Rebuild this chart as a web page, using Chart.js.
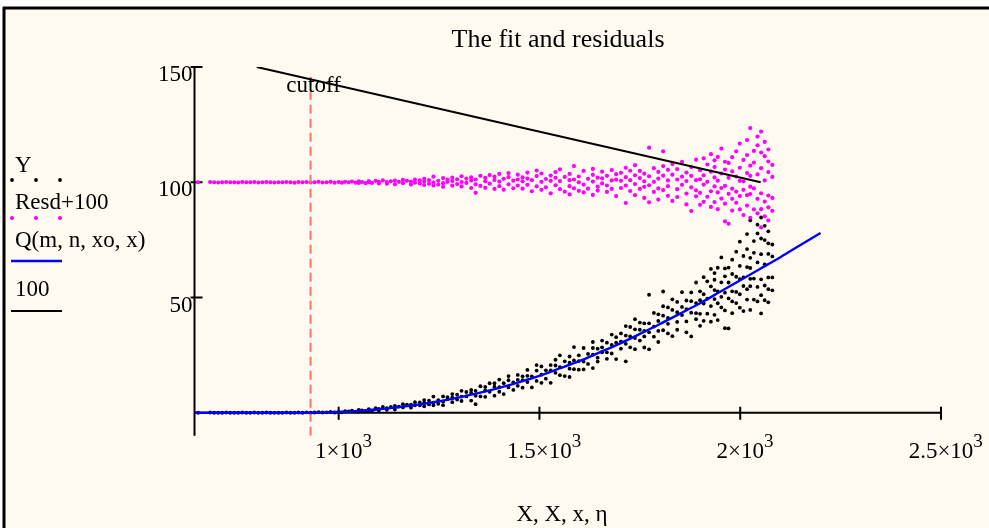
<!DOCTYPE html>
<html>
<head>
<meta charset="utf-8">
<title>The fit and residuals</title>
<script src="https://cdn.jsdelivr.net/npm/chart.js@4.4.0/dist/chart.umd.min.js"></script>
<style>
  html, body { margin: 0; padding: 0; background: #ffffff; }
  #wrap { position: relative; width: 989px; height: 528px; }
</style>
</head>
<body>
<div id="wrap"><canvas id="plot"></canvas></div>
<script>
/* ============================================================
   The fit and residuals — Mathcad style plot redrawn in Chart.js
   ============================================================ */

// ---- Measured data X (one line per column of points) --------
var dataX = [
  650, 680, 690, 700, 710, 720, 730, 740, 750, 760, 770,
  780, 790, 800, 810, 820, 830, 840, 850, 860, 870, 880,
  890, 900, 910, 920, 930, 940, 950, 960, 970, 980, 990,
  1000, 1008, 1016, 1025, 1033, 1042, 1050, 1050, 1058, 1067,
  1075, 1075, 1083, 1092, 1100, 1100, 1110, 1120, 1120, 1130,
  1140, 1140, 1150, 1160, 1160, 1170, 1180, 1180, 1190, 1190,
  1202, 1202,
  1213, 1213, 1213,
  1225, 1225,
  1236, 1236, 1236,
  1248, 1248,
  1260, 1260, 1260,
  1271, 1271,
  1283, 1283, 1283,
  1295, 1295,
  1306, 1306, 1306,
  1318, 1318,
  1330, 1330, 1330,
  1341, 1341, 1341,
  1353, 1353,
  1365, 1365, 1365,
  1376, 1376,
  1388, 1388, 1388,
  1400, 1400, 1400,
  1411, 1411,
  1423, 1423, 1423,
  1435, 1435,
  1446, 1446, 1446,
  1458, 1458, 1458,
  1470, 1470, 1470,
  1481, 1481,
  1493, 1493, 1493,
  1505, 1505, 1505,
  1516, 1516,
  1528, 1528, 1528,
  1540, 1540, 1540,
  1551, 1551, 1551,
  1563, 1563,
  1575, 1575, 1575, 1575,
  1586, 1586, 1586,
  1598, 1598, 1598,
  1610, 1610, 1610,
  1621, 1621,
  1633, 1633, 1633, 1633,
  1645, 1645, 1645,
  1656, 1656, 1656,
  1668, 1668, 1668,
  1680, 1680, 1680,
  1691, 1691, 1691,
  1703, 1703, 1703,
  1715, 1715, 1715, 1715,
  1726, 1726, 1726,
  1738, 1738, 1738, 1738,
  1750, 1750, 1750,
  1761, 1761, 1761, 1761,
  1773, 1773, 1773, 1773,
  1785, 1785, 1785,
  1796, 1796, 1796, 1796,
  1808, 1808, 1808, 1808,
  1820, 1820, 1820, 1820,
  1831, 1831, 1831,
  1843, 1843, 1843, 1843,
  1855, 1855, 1855,
  1866, 1866, 1866, 1866,
  1878, 1878, 1878, 1878,
  1890, 1890, 1890, 1890,
  1900, 1900, 1900, 1900,
  1909, 1909, 1909, 1909,
  1918, 1918, 1918,
  1927, 1927, 1927, 1927,
  1936, 1936, 1936, 1936, 1936,
  1944, 1944, 1944, 1944,
  1953, 1953, 1953, 1953,
  1962, 1962, 1962, 1962, 1962,
  1971, 1971, 1971, 1971,
  1980, 1980, 1980, 1980, 1980,
  1990, 1990, 1990, 1990,
  1999, 1999, 1999, 1999, 1999,
  2008, 2008, 2008, 2008,
  2017, 2017, 2017, 2017, 2017,
  2025, 2025, 2025, 2025, 2025, 2025,
  2034, 2034, 2034, 2034,
  2043, 2043, 2043, 2043, 2043,
  2052, 2052, 2052, 2052, 2052, 2052,
  2061, 2061, 2061, 2061, 2061,
  2070, 2070, 2070, 2070, 2070, 2070,
  2080, 2080, 2080, 2080
];

// ---- Measured Y (black dots) ---------------------------------
var dataY = [
  0, 0.1, 0, 0, 0, 0.1, 0, 0, 0, 0.1, 0,
  0, 0.1, 0, 0, 0.1, 0, 0, 0, 0, 0.1, 0,
  0, 0.1, 0, 0.2, 0, 0.1, 0.3, 0.1, 0.2, 0.4, 0.1,
  0.4, 0.2, 0.7, 0.6, 0.9, 0.5, 1.2, 0.5, 1.0, 0.6,
  1.6, 1.1, 0.9, 2.0, 1.0, 1.7, 2.5, 1.3, 2.0, 2.5,
  1.4, 3.0, 2.7, 2.3, 3.7, 3.5, 2.2, 3.5, 4.6, 3.2,
  4.5, 3.2,
  2.8, 4.3, 5.5,
  5.2, 3.6,
  7.0, 4.4, 3.2,
  5.5, 3.9,
  7.1, 4.9, 3.3,
  5.9, 6.8,
  4.6, 8.1, 6.6,
  5.7, 7.8,
  9.5, 5.1, 7.0,
  7.1, 9.0,
  5.3, 8.6, 9.9,
  3.7, 9.5, 7.4,
  11.5, 7.1,
  9.7, 6.9, 11.2,
  12.8, 9.1,
  7.4, 11.3, 12.8,
  11.1, 9.1, 14.4,
  8.1, 12.8,
  14.1, 11.0, 15.9,
  9.9, 13.2,
  16.4, 11.7, 14.3,
  15.8, 10.9, 14.1,
  13.3, 18.6, 16.0,
  11.0, 15.8,
  18.3, 13.8, 20.7,
  13.0, 16.5, 20.1,
  18.4, 14.8,
  13.0, 20.7, 18.4,
  23.0, 17.3, 20.5,
  16.3, 19.8, 24.9,
  22.3, 15.9,
  19.1, 24.4, 21.7, 15.5,
  28.5, 18.9, 22.7,
  18.7, 24.9, 22.4,
  28.1, 22.2, 18.8,
  25.5, 21.2,
  19.4, 28.1, 25.2, 30.7,
  23.9, 27.8, 22.2,
  31.3, 26.2, 28.4,
  23.4, 30.4, 26.2,
  29.4, 33.9, 25.7,
  23.3, 32.8, 30.4,
  34.4, 27.8, 30.9,
  22.3, 33.5, 37.6, 29.9,
  37.2, 28.4, 33.1,
  27.6, 36.2, 32.4, 40.6,
  36.0, 31.3, 39.1,
  28.3, 35.5, 38.8, 33.1,
  51.2, 27.5, 38.8, 34.9,
  43.3, 33.0, 37.4,
  35.5, 42.7, 30.7, 39.8,
  52.6, 35.8, 42.1, 46.2,
  34.4, 41.1, 45.7, 38.6,
  44.6, 33.2, 49.2,
  39.4, 43.6, 36.0, 48.1,
  52.3, 42.4, 45.9,
  39.6, 48.7, 34.9, 45.0,
  52.2, 33.1, 43.4, 48.4,
  40.6, 56.5, 47.6, 43.2,
  52.7, 42.9, 48.8, 37.7,
  51.4, 47.4, 39.9, 58.8,
  43.0, 57.0, 49.5,
  62.4, 46.3, 54.8, 39.5,
  57.7, 42.5, 49.3, 53.2, 60.6,
  62.9, 40.2, 52.6, 47.5,
  45.7, 56.6, 67.4, 50.3,
  36.7, 52.1, 59.2, 44.4, 62.6,
  36.6, 63.0, 49.6, 56.5,
  60.2, 43.2, 66.4, 52.7, 48.3,
  69.9, 59.0, 47.6, 52.4,
  45.6, 51.4, 63.7, 74.2, 58.0,
  58.7, 44.1, 68.0, 55.0,
  77.5, 53.6, 63.2, 49.1, 71.0,
  83.5, 62.8, 54.9, 44.6, 67.2, 58.1,
  69.4, 49.1, 74.5, 58.2,
  77.8, 54.6, 65.2, 48.3, 81.6,
  84.7, 51.0, 68.8, 57.9, 75.6, 43.1,
  74.9, 48.8, 64.4, 81.1, 55.2,
  68.9, 58.7, 47.9, 78.7, 73.5, 53.6,
  58.7, 67.8, 53.1, 73.0
];

// ---- Residuals Resd (plotted as Resd + 100) ------------------
var resd = [
  0, 0.1, 0, -0.1, 0, 0.1, 0, 0, -0.1, 0.1, 0,
  0, 0.1, -0.1, 0, 0.1, 0, -0.1, 0, 0, 0.1, 0,
  -0.2, 0.1, 0, 0.1, -0.1, 0, 0.2, -0.1, 0, 0.2, -0.2,
  0.1, -0.2, 0.2, 0, 0.3, -0.2, 0.4, -0.3, 0.1, -0.4,
  0.5, 0, -0.3, 0.6, -0.5, 0.2, 0.8, -0.6, 0.1, 0.4,
  -0.9, 0.7, 0.2, -0.4, 1.0, 0.6, -1.0, 0.3, 1.2, -0.2,
  0.8, -0.5,
  -1.2, 0.3, 1.5,
  0.9, -0.7,
  2.4, -0.2, -1.4,
  0.6, -1.0,
  1.8, -0.4, -2.0,
  0.2, 1.1,
  -1.5, 2.0, 0.5,
  -0.8, 1.3,
  2.6, -1.8, 0.1,
  -0.3, 1.6,
  -2.5, 0.8, 2.1,
  -4.6, 1.2, -0.9,
  2.8, -1.6,
  0.4, -2.4, 1.9,
  3.1, -0.6,
  -2.9, 1.0, 2.5,
  0.3, -1.7, 3.6,
  -3.2, 1.5,
  2.2, -0.9, 4.0,
  -2.6, 0.7,
  3.3, -1.4, 1.2,
  2.1, -2.8, 0.4,
  -1.1, 4.2, 1.6,
  -3.9, 0.9,
  2.7, -1.8, 5.1,
  -3.3, 0.2, 3.8,
  1.4, -2.2,
  -4.8, 2.9, 0.6,
  4.4, -1.3, 1.9,
  -3.0, 0.5, 5.6,
  2.3, -4.1,
  -1.7, 3.6, 0.9, -5.3,
  7.0, -2.6, 1.2,
  -3.7, 2.5, 0,
  4.9, -1.0, -4.4,
  1.5, -2.8,
  -5.5, 3.2, 0.3, 5.8,
  -1.9, 2.0, -3.6,
  4.6, -0.5, 1.7,
  -4.2, 2.8, -1.4,
  0.8, 5.3, -2.9,
  -6.0, 3.5, 1.1,
  4.1, -2.5, 0.6,
  -9.0, 2.2, 6.3, -1.4,
  5.0, -3.8, 0.9,
  -5.6, 3.0, -0.8, 7.4,
  1.8, -2.9, 4.9,
  -6.8, 0.4, 3.7, -2.0,
  15.0, -8.7, 2.6, -1.3,
  6.1, -4.2, 0.2,
  -2.7, 4.5, -7.5, 1.6,
  13.4, -3.4, 2.9, 7.0,
  -5.9, 0.8, 5.4, -1.7,
  3.3, -8.1, 7.9,
  -3.0, 1.2, -6.4, 5.7,
  8.8, -1.1, 2.4,
  -4.9, 4.2, -9.6, 0.5,
  6.6, -12.5, -2.2, 2.8,
  -6.1, 9.8, 0.9, -3.5,
  5.2, -4.6, 1.3, -9.8,
  3.0, -1.0, -8.5, 10.4,
  -6.3, 7.7, 0.2,
  12.2, -3.9, 4.6, -10.7,
  6.6, -8.6, -1.8, 2.1, 9.5,
  11.0, -11.7, 0.7, -4.4,
  -7.1, 3.8, 14.6, -2.5,
  -17.0, -1.6, 5.5, -9.3, 8.9,
  -18.0, 8.4, -5.0, 1.9,
  4.7, -12.3, 10.9, -2.8, -7.2,
  13.4, 2.5, -8.9, -4.1,
  -11.8, -6.0, 6.3, 16.8, 0.6,
  0.4, -14.2, 9.7, -3.3,
  18.3, -5.6, 4.0, -10.1, 11.8,
  23.5, 2.8, -5.1, -15.4, 7.2, -1.9,
  8.5, -11.8, 13.6, -2.7,
  16.0, -7.2, 3.4, -13.5, 19.8,
  22.0, -11.7, 6.1, -4.8, 12.9, -19.6,
  11.3, -14.8, 0.8, 17.5, -8.4,
  4.4, -5.8, -16.6, 14.2, 9.0, -10.9,
  -6.8, 2.3, -12.4, 7.5
];
var resdOffset = 100;

// ---- Fitted curve Q(m, n, xo, x) ----
var fitX = [641, 700, 800, 900, 950, 1000, 1050, 1100, 1150, 1200, 1250, 1300, 1350, 1400, 1450,
  1500, 1550, 1600, 1650, 1700, 1750, 1800, 1850, 1900, 1950, 2000, 2050, 2100, 2150, 2200];
var fitQ = [0, 0, 0, 0, 0.05, 0.3, 0.8, 1.5, 2.5, 3.6, 5.0, 6.7, 8.6, 10.8, 13.3,
  16, 19.2, 22.5, 26.2, 30, 34.2, 38.5, 43, 47.5, 52.5, 57.5, 62.5, 67.5, 72.8, 78];

// ---- Black "100" trace (plotted against eta) -----------------
var etaX = [796, 2051];
var etaY = [150, 100];

// ---- Cutoff marker -------------------------------------------
var cutoffX = 930;
var cutoffSpan = [-10, 147];

// ---- Axes ----------------------------------------------------
var xRange = [641, 2500];
var yRange = [-10, 150];
var xTickVals = [1000, 1500, 2000, 2500];
var xTickMant = ['1', '1.5', '2', '2.5'];
var xTickExp = '3';
var yTickVals = [50, 100, 150];
var yTickText = ['50', '100', '150'];

var TITLE = 'The fit and residuals';
var XLABEL = 'X, X, x, \u03b7';
var LEGEND = ['Y', 'Resd+100', 'Q(m, n, xo, x)', '100'];

var SERIF = "'Liberation Serif', 'Times New Roman', serif";

// ---- Build point tables --------------------------------------
function pairs(xs, ys, offset) {
  var out = [];
  for (var i = 0; i < xs.length && i < ys.length; i++) {
    out.push({ x: xs[i], y: ys[i] + (offset || 0) });
  }
  return out;
}

// ---- Mathcad style frame, axes and texts ---------------------
var mathcadDecor = {
  id: 'mathcadDecor',
  beforeDraw: function (chart) {
    var ctx = chart.ctx;
    ctx.save();
    ctx.fillStyle = '#ffffff';
    ctx.fillRect(0, 0, chart.width, chart.height);
    ctx.fillStyle = '#fefaf0';
    ctx.fillRect(4, 8, chart.width, chart.height);
    ctx.strokeStyle = '#000000';
    ctx.lineWidth = 3;
    ctx.beginPath();
    ctx.moveTo(3, 8); ctx.lineTo(chart.width, 8);
    ctx.moveTo(4, 7); ctx.lineTo(4, chart.height);
    ctx.stroke();
    ctx.restore();
  },
  beforeDatasetsDraw: function (chart) {
    var ctx = chart.ctx;
    var xs = chart.scales.x, ys = chart.scales.y;
    var x0 = xs.getPixelForValue(xRange[0]);
    var x1 = xs.getPixelForValue(xRange[1]);
    var y0 = ys.getPixelForValue(0);
    var yTop = ys.getPixelForValue(yRange[1]);
    var yBot = ys.getPixelForValue(yRange[0]);
    ctx.save();
    ctx.strokeStyle = '#000000';
    ctx.lineWidth = 2;
    ctx.beginPath();
    ctx.moveTo(x0, yTop); ctx.lineTo(x0, yBot);
    ctx.moveTo(x0, y0); ctx.lineTo(x1, y0);
    // x ticks
    for (var i = 0; i < xTickVals.length; i++) {
      var px = xs.getPixelForValue(xTickVals[i]);
      ctx.moveTo(px, y0 - 6); ctx.lineTo(px, y0 + 7);
    }
    // y ticks
    for (var j = 0; j < yTickVals.length; j++) {
      var py = ys.getPixelForValue(yTickVals[j]);
      ctx.moveTo(x0 - 4, py); ctx.lineTo(x0 + 8, py);
    }
    ctx.stroke();
    ctx.restore();
  },
  afterDraw: function (chart) {
    var ctx = chart.ctx;
    var xs = chart.scales.x, ys = chart.scales.y;
    var x0 = xs.getPixelForValue(xRange[0]);
    ctx.save();
    ctx.fillStyle = '#000000';
    ctx.textBaseline = 'alphabetic';

    // title and x label
    ctx.font = '26px ' + SERIF;
    ctx.textAlign = 'center';
    ctx.fillText(TITLE, 558, 47);
    ctx.font = '23px ' + SERIF;
    ctx.fillText(XLABEL, 562, 521);

    // y tick labels
    ctx.textAlign = 'right';
    for (var j = 0; j < yTickVals.length; j++) {
      ctx.fillText(yTickText[j], x0 - 2, ys.getPixelForValue(yTickVals[j]) + 14);
    }

    // x tick labels: mantissa x 10 with raised exponent
    ctx.textAlign = 'left';
    for (var i = 0; i < xTickVals.length; i++) {
      var cx = xs.getPixelForValue(xTickVals[i]);
      var base = xTickMant[i] + '\u00d710';
      ctx.font = '23px ' + SERIF;
      var w = ctx.measureText(base).width;
      ctx.fillText(base, cx - w / 2, 458);
      ctx.font = '19px ' + SERIF;
      ctx.fillText(xTickExp, cx + w / 2, 447);
    }

    // cutoff label
    ctx.font = '23px ' + SERIF;
    ctx.textAlign = 'center';
    ctx.fillText('cutoff', xs.getPixelForValue(cutoffX) + 3, 92);

    // legend on the left
    ctx.textAlign = 'left';
    ctx.fillText(LEGEND[0], 15, 172);
    ctx.fillText(LEGEND[1], 15, 209);
    ctx.fillText(LEGEND[2], 15, 247);
    ctx.fillText(LEGEND[3], 15, 296);
    var dotXs = [12, 36, 60];
    for (var k = 0; k < dotXs.length; k++) {
      ctx.fillStyle = '#000000';
      ctx.beginPath(); ctx.arc(dotXs[k], 180, 1.9, 0, Math.PI * 2); ctx.fill();
      ctx.fillStyle = '#ff00ff';
      ctx.beginPath(); ctx.arc(dotXs[k], 218, 2.1, 0, Math.PI * 2); ctx.fill();
    }
    ctx.lineWidth = 2.4;
    ctx.strokeStyle = '#0000ff';
    ctx.beginPath(); ctx.moveTo(11, 261); ctx.lineTo(62, 261); ctx.stroke();
    ctx.lineWidth = 2;
    ctx.strokeStyle = '#000000';
    ctx.beginPath(); ctx.moveTo(11, 311); ctx.lineTo(62, 311); ctx.stroke();
    ctx.restore();
  }
};

var ctx = document.getElementById('plot').getContext('2d');
new Chart(ctx, {
  type: 'scatter',
  data: {
    datasets: [
      {
        label: 'Y',
        data: pairs(dataX, dataY),
        backgroundColor: '#000000',
        borderWidth: 0,
        pointRadius: 1.9,
        order: 4
      },
      {
        label: 'Resd+100',
        data: pairs(dataX, resd, resdOffset),
        backgroundColor: '#ff00ff',
        borderWidth: 0,
        pointRadius: 2.1,
        order: 3
      },
      {
        label: 'Q(m, n, xo, x)',
        data: pairs(fitX, fitQ),
        showLine: true,
        borderColor: '#0000ff',
        borderWidth: 2.4,
        pointRadius: 0,
        cubicInterpolationMode: 'monotone',
        order: 0
      },
      {
        label: '100',
        data: pairs(etaX, etaY),
        showLine: true,
        borderColor: '#000000',
        borderWidth: 2,
        pointRadius: 0,
        order: 1
      },
      {
        label: 'cutoff',
        data: [{ x: cutoffX, y: cutoffSpan[0] }, { x: cutoffX, y: cutoffSpan[1] }],
        showLine: true,
        borderColor: '#ff7070',
        borderWidth: 2,
        borderDash: [9, 5],
        pointRadius: 0,
        order: 2
      }
    ]
  },
  options: {
    responsive: true,
    maintainAspectRatio: false,
    animation: false,
    events: [],
    layout: {
      padding: { left: 194.5, right: 48, top: 67, bottom: 92.2 }
    },
    plugins: {
      legend: { display: false },
      tooltip: { enabled: false },
      title: { display: false }
    },
    scales: {
      x: { type: 'linear', min: xRange[0], max: xRange[1], display: false },
      y: { type: 'linear', min: yRange[0], max: yRange[1], display: false }
    }
  },
  plugins: [mathcadDecor]
});
</script>
</body>
</html>
